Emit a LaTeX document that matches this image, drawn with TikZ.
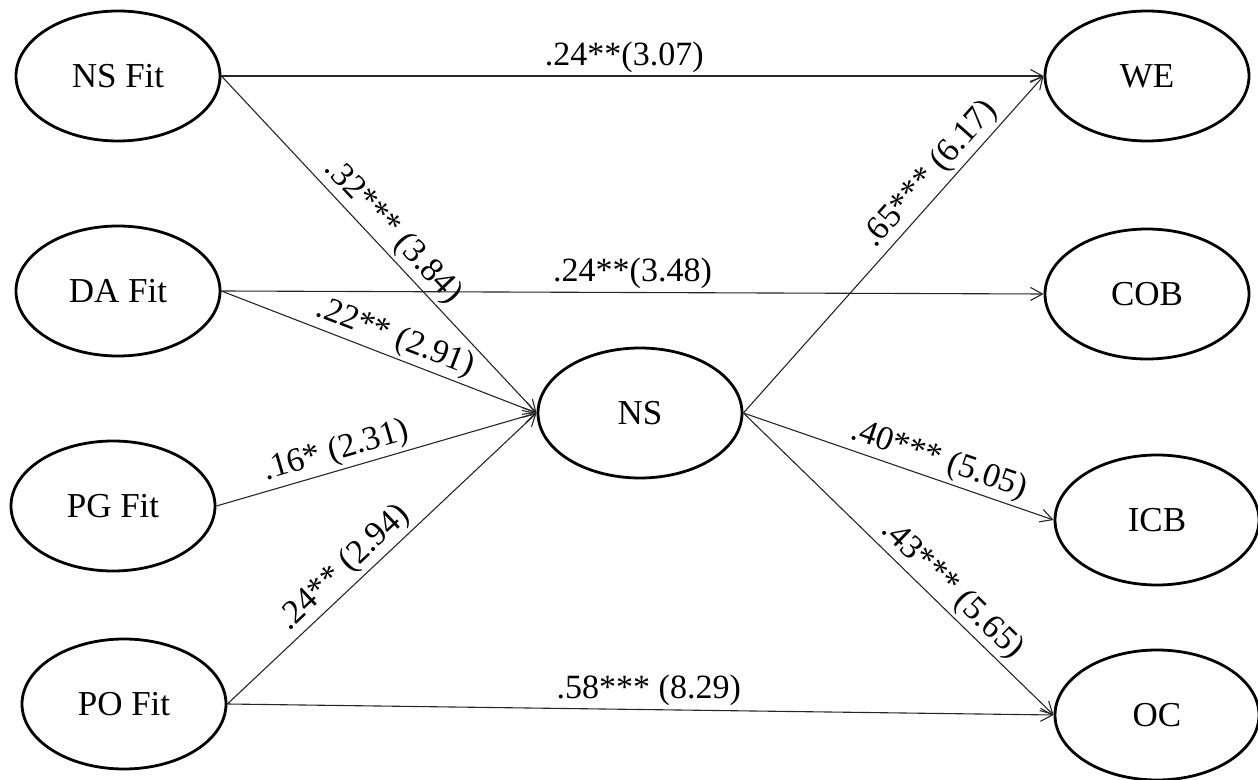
\documentclass[tikz,border=0pt]{standalone}
\usepackage{fontspec}
\setmainfont{Liberation Serif}
\usetikzlibrary{shapes.geometric,arrows.meta}
\begin{document}
\begin{tikzpicture}[x=0.5pt,y=-0.5pt,
  latent/.style={ellipse,draw,line width=1.4pt,minimum width=102pt,minimum height=65pt,inner sep=0pt,font=\fontsize{17.5}{20}\selectfont},
  path/.style={draw=black!85,line width=0.55pt,-{Straight Barb[length=6pt,width=6.5pt]}},
  coef/.style={font=\fontsize{17}{19}\selectfont,inner sep=1.5pt}]
\useasboundingbox (0,0) rectangle (1258,780);
\node[latent] (nsfit) at (118,76) {NS Fit};
\node[latent] (dafit) at (118,291) {DA Fit};
\node[latent] (pgfit) at (113,506) {PG Fit};
\node[latent] (pofit) at (124,704) {PO Fit};
\node[latent] (ns) at (640,413) {NS};
\node[latent] (we) at (1147,76) {WE};
\node[latent] (cob) at (1147,294) {COB};
\node[latent] (icb) at (1157,520) {ICB};
\node[latent] (oc) at (1157,715) {OC};
\draw[path] (nsfit.east) -- node[coef,above,pos=0.49] {.24**(3.07)} (we.west);
\draw[path] (nsfit.east) -- node[coef,above,sloped,pos=0.5] {.32*** (3.84)} (ns.west);
\draw[path] (dafit.east) -- node[coef,above,pos=0.5] {.24**(3.48)} (cob.west);
\draw[path] (dafit.east) -- node[coef,above,sloped,pos=0.53] {.22** (2.91)} (ns.west);
\draw[path] (pgfit.east) -- node[coef,above,sloped,pos=0.39] {.16* (2.31)} (ns.west);
\draw[path] (pofit.east) -- node[coef,above,sloped,pos=0.42] {.24** (2.94)} (ns.west);
\draw[path] (pofit.east) -- node[coef,above,pos=0.51] {.58*** (8.29)} (oc.west);
\draw[path] (ns.east) -- node[coef,above,sloped,pos=0.67] {.65*** (6.17)} (we.west);
\draw[path] (ns.east) -- node[coef,above,sloped,pos=0.61] {.40*** (5.05)} (icb.west);
\draw[path] (ns.east) -- node[coef,above,sloped,pos=0.63] {.43*** (5.65)} (oc.west);
\end{tikzpicture}
\end{document}
